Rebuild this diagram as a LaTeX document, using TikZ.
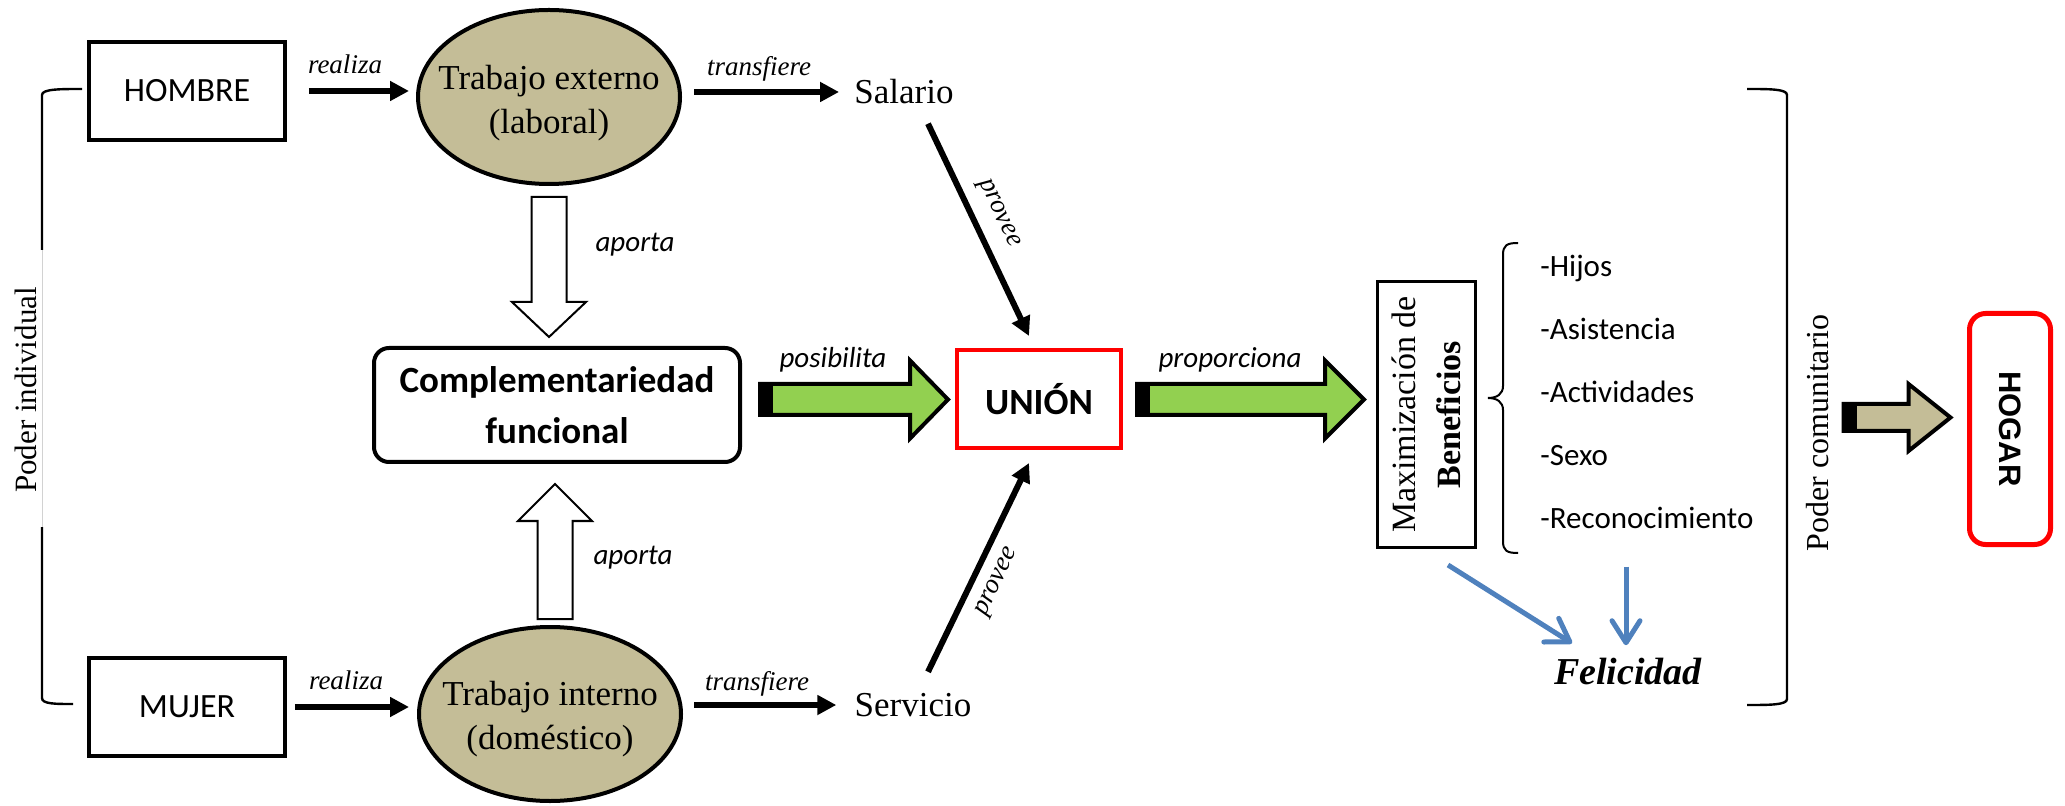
\documentclass[tikz,border=0pt]{standalone}
\usepackage{fontspec}
\setmainfont{Liberation Serif}
\newfontfamily\calib{Carlito}
\newfontfamily\arialf{Liberation Sans}
\usetikzlibrary{arrows.meta,calc,shapes.geometric}
\definecolor{tanfill}{HTML}{C4BD97}
\definecolor{greenfill}{HTML}{92D050}
\definecolor{offblue}{HTML}{4F81BD}
\definecolor{pured}{HTML}{FF0000}
% #1 total length, #2 fill, #3 shaft half, #4 head half, #5 head length
\newcommand\myblockarrow[5]{%
  \draw[line width=2pt, fill=#2] (0,-#3) -- ({#1-#5},-#3) -- ({#1-#5},-#4) -- (#1,0) -- ({#1-#5},#4) -- ({#1-#5},#3) -- (0,#3) -- cycle;
  \fill (-2,{-#3-2}) rectangle (13,{#3+2});
}
\begin{document}
\begin{tikzpicture}[x=0.5pt,y=-0.5pt,
  personbox/.style={draw, line width=1.75pt, minimum width=98pt, minimum height=49pt, inner sep=0pt, font=\calib\fontsize{17}{20}\selectfont},
  workell/.style={ellipse, draw, line width=2pt, fill=tanfill, minimum width=131pt, minimum height=87pt, inner sep=0pt},
  elltext/.style={inner sep=0pt, align=center, font=\fontsize{17.5}{22}\selectfont},
  plaintext/.style={inner sep=0pt, font=\fontsize{17.5}{21}\selectfont},
  verblab/.style={inner sep=0pt, font=\itshape\fontsize{13.5}{16}\selectfont},
  calilab/.style={inner sep=0pt, font=\calib\itshape\fontsize{14.5}{17}\selectfont},
  itemtext/.style={inner sep=0pt, anchor=base west, font=\calib\fontsize{15.5}{18}\selectfont},
  blackarr/.style={line width=3pt, -{Triangle[length=9.5pt,width=9.5pt]}},
  hollowarr/.style={line width=1pt, fill=white},
  bluearr/.style={draw=offblue, line width=2.5pt, -{Straight Barb[length=11pt,width=14pt,round]}},
  bracketline/.style={line width=1.2pt},
]
\useasboundingbox (0,0) rectangle (2065,806);

% people
\node[personbox] (hombre) at (187,91) {HOMBRE};
\node[personbox] (mujer) at (187,707) {MUJER};

% work ellipses
\node[workell] (tex) at (549,97) {};
\node[elltext] (textext) at (549,103) {Trabajo externo\\(laboral)};
\node[workell] (tin) at (550,714) {};
\node[elltext] (tintext) at (550,719) {Trabajo interno\\(doméstico)};

% outputs
\node[plaintext] (salario) at (904,92) {Salario};
\node[plaintext] (servicio) at (913,705) {Servicio};

% central boxes
\node[draw, rounded corners=7.5pt, line width=2pt, minimum width=183pt, minimum height=57pt, inner sep=0pt, align=center,
      font=\calib\bfseries\fontsize{18.5}{25.5}\selectfont] (comp) at (557,405) {Complementariedad\\funcional};
\node[draw=pured, line width=2pt, minimum width=82pt, minimum height=49pt, inner sep=0pt,
      font=\calib\bfseries\fontsize{18.5}{22}\selectfont] (union) at (1039,399) {UNIÓN};
\node[draw, line width=1.5pt, rotate=90, minimum width=133pt, minimum height=49pt, inner sep=0pt, align=center,
      font=\fontsize{17}{22.5}\selectfont] (maxb) at (1426.5,414.5) {Maximización de\\\textbf{Beneficios}};

% list of benefits
\node[itemtext] (hijos) at (1540,277) {-Hijos};
\node[itemtext] (asis) at (1540,340) {-Asistencia};
\node[itemtext] (activ) at (1540,403) {-Actividades};
\node[itemtext] (sexo) at (1540,466) {-Sexo};
\node[itemtext] (reco) at (1540,529) {-Reconocimiento};

\node[inner sep=0pt, anchor=base, font=\bfseries\itshape\fontsize{19}{22}\selectfont] (fel) at (1628,684) {Felicidad};

% side labels
\node[inner sep=0pt, rotate=90, font=\fontsize{15.5}{18}\selectfont] (pind) at (26,390) {Poder individual};
\node[inner sep=0pt, rotate=90, font=\fontsize{16}{19}\selectfont] (pcom) at (1818,433) {Poder comunitario};

% HOGAR
\node[draw=pured, line width=2.5pt, rounded corners=8pt, rotate=-90, minimum width=115.5pt, minimum height=40.5pt, inner sep=0pt,
      font=\arialf\bfseries\fontsize{15.5}{18}\selectfont] (hogar) at (2010,429) {HOGAR};

% thin black arrows
\draw[blackarr, shorten <=11pt, shorten >=3.5pt] (hombre.east) -- (hombre.east -| tex.west);
\draw[blackarr, shorten <=4pt, shorten >=4pt] (mujer.east) -- (mujer.east -| tin.west);
\draw[blackarr, shorten <=6pt, shorten >=7.5pt] (tex.east |- salario.west) -- (salario.west);
\draw[blackarr, shorten <=5.5pt, shorten >=9pt] (tin.east |- servicio.west) -- (servicio.west);
\draw[blackarr] ($(salario.south)+(24,19)$) -- ($(union.north)+(-10,-12)$);
\draw[blackarr] ($(servicio.north)+(15,-21)$) -- ($(union.south)+(-10,13)$);

% verb labels
\node[verblab] (lreal1) at (345,64) {realiza};
\node[verblab] (lreal2) at (346,680) {realiza};
\node[verblab] (ltra1) at (759,69) {transfiere};
\node[verblab] (ltra2) at (757,684) {transfiere};
\node[verblab, rotate=-64.6] (lprov1) at (998,214) {provee};
\node[verblab, rotate=64.6] (lprov2) at (998,582) {provee};
\node[calilab] (lap1) at (635,245) {aporta};
\node[calilab] (lap2) at (633,558) {aporta};
\node[calilab] (lpos) at (833,360) {posibilita};
\node[calilab] (lprop) at (1230,360) {proporciona};

% hollow arrows
\begin{scope}[shift={(tex.south)}]
  \draw[hollowarr] (-17.5,11) -- (17.5,11) -- (17.5,116) -- (37,116) -- (0,151) -- (-37,116) -- (-17.5,116) -- cycle;
\end{scope}
\begin{scope}[shift={(tin.north)}]
  \draw[hollowarr] (-12.5,-6) -- (22.5,-6) -- (22.5,-104) -- (42,-104) -- (5,-141) -- (-32,-104) -- (-12.5,-104) -- cycle;
\end{scope}

% green and tan block arrows
\begin{scope}[shift={($(comp.east)+(18,-5.5)$)}]
  \myblockarrow{188}{greenfill}{15.5}{39}{38}
\end{scope}
\begin{scope}[shift={($(union.east)+(14,0.5)$)}]
  \myblockarrow{227}{greenfill}{15.5}{39}{39}
\end{scope}
\begin{scope}[shift={($(hogar.south)+(-123.5,-11.5)$)}]
  \myblockarrow{107}{tanfill}{13.5}{33.5}{42}
\end{scope}

% blue arrows to Felicidad
\draw[bluearr] ($(maxb.west)+(21.5,16)$) -- ($(fel.north)+(-56,-14)$);
\draw[bluearr] ($(reco.south west)+(86,37)$) -- ($(fel.north)+(-2,-12)$);

% brace before list
\draw[line width=1pt] (1518,243) .. controls (1507,243) and (1503,245) .. (1503,255) -- (1503,386)
  .. controls (1503,394) and (1497,398) .. (1488,398) .. controls (1497,398) and (1503,402) .. (1503,410)
  -- (1503,541) .. controls (1503,551) and (1507,553) .. (1518,553);

% right bracket
\draw[bracketline] (1747,89) .. controls (1770,89) and (1787,89) .. (1787,95) -- (1787,699)
  .. controls (1787,705) and (1770,705) .. (1747,705);

% left bracket
\draw[bracketline] (82,89) .. controls (60,89) and (42,89) .. (42,95) -- (42,250);
\draw[gray!35, line width=0.4pt] (42,250) -- (42,527);
\draw[bracketline] (42,527) -- (42,698) .. controls (42,704) and (55,704) .. (73,704);
\end{tikzpicture}
\end{document}
